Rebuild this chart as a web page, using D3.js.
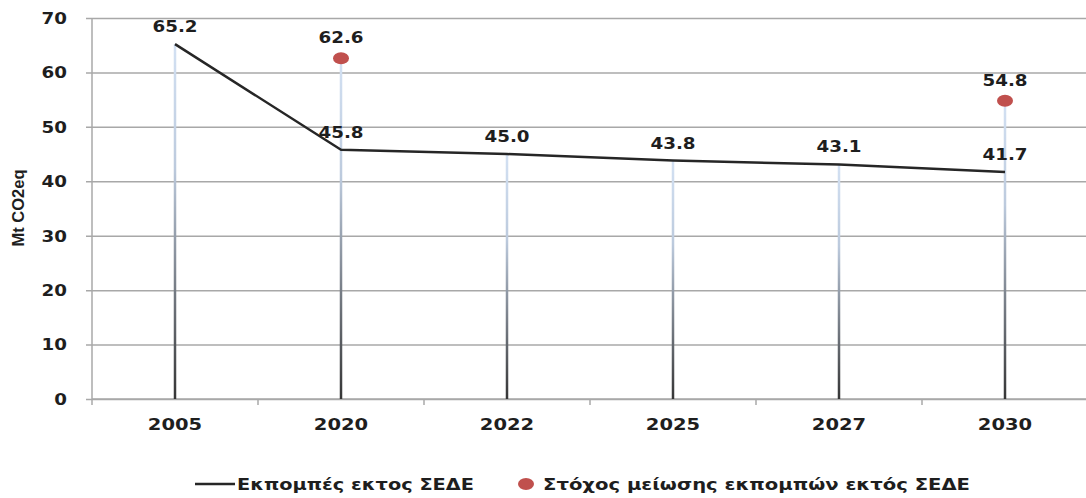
<!DOCTYPE html>
<html>
<head>
<meta charset="utf-8">
<script src="https://cdn.jsdelivr.net/npm/d3@7"></script>
<style>
  html, body { margin: 0; padding: 0; background: #fff; }
  svg { display: block; }
  text { font-family: "DejaVu Sans", Verdana, sans-serif; font-weight: bold; fill: #1e1e1e; }
</style>
</head>
<body>
<svg id="chart" width="1086" height="498"></svg>
<script>
const categories = ["2005", "2020", "2022", "2025", "2027", "2030"];
const emissions = [65.2, 45.8, 45.0, 43.8, 43.1, 41.7];
const targets = [null, 62.6, null, null, null, 54.8];
const yTicks = [0, 10, 20, 30, 40, 50, 60, 70];
const seriesNames = ["Εκπομπές εκτος ΣΕΔΕ", "Στόχος μείωσης εκπομπών εκτός ΣΕΔΕ"];
const yTitle = "Mt CO2eq";

(function () {
const svg = d3.select("#chart");
const pLeft = 92, pRight = 1088, pTop = 18, pBottom = 399;

const x = d3.scaleBand().domain(categories).range([pLeft, pRight]).padding(0);
const y = d3.scaleLinear().domain([0, 70]).range([pBottom, pTop]);
const cx = c => x(c) + x.bandwidth() / 2;

// gradient for drop lines
const defs = svg.append("defs");
const grad = defs.append("linearGradient").attr("id", "dropGrad")
  .attr("x1", 0).attr("y1", 0).attr("x2", 0).attr("y2", 1);
grad.append("stop").attr("offset", "0%").attr("stop-color", "#d3e1f3");
grad.append("stop").attr("offset", "35%").attr("stop-color", "#bccadd");
grad.append("stop").attr("offset", "65%").attr("stop-color", "#7e858f");
grad.append("stop").attr("offset", "100%").attr("stop-color", "#353535");

// gridlines
const grid = svg.append("g").attr("transform", `translate(${pLeft - 6},0)`)
  .call(d3.axisRight(y).tickValues(yTicks).tickSize(pRight - pLeft + 6).tickFormat(""));
grid.select(".domain").remove();
grid.selectAll("line").attr("stroke", "#a8a8a8").attr("stroke-width", 1.5);

// y axis line
svg.append("line").attr("x1", pLeft).attr("x2", pLeft).attr("y1", pTop).attr("y2", pBottom + 6)
  .attr("stroke", "#a8a8a8").attr("stroke-width", 1.5);
// x axis line
svg.append("line").attr("x1", pLeft).attr("x2", pRight).attr("y1", pBottom).attr("y2", pBottom)
  .attr("stroke", "#a8a8a8").attr("stroke-width", 1.5);
// x boundary ticks
svg.append("g").selectAll("line").data(categories.slice(1)).join("line")
  .attr("x1", d => x(d)).attr("x2", d => x(d)).attr("y1", pBottom).attr("y2", pBottom + 6)
  .attr("stroke", "#a8a8a8").attr("stroke-width", 1.5);

// y tick labels
const yAxis = svg.append("g").attr("transform", "translate(67,0)")
  .call(d3.axisLeft(y).tickValues(yTicks).tickSize(0).tickPadding(0));
yAxis.select(".domain").remove();
yAxis.selectAll("text").attr("x", 0).attr("dy", "0.36em").attr("text-anchor", "end")
  .attr("transform", "scale(1.22,1)").style("font-size", "15px")
  .style("font-family", "'DejaVu Sans', sans-serif").style("font-weight", "bold").attr("fill", "#1e1e1e");

// x tick labels
const xAxis = svg.append("g").attr("transform", `translate(0,${pBottom})`)
  .call(d3.axisBottom(x).tickSize(0).tickPadding(0));
xAxis.select(".domain").remove();
xAxis.selectAll("text").attr("y", 31).attr("dy", 0)
  .attr("transform", "scale(1.22,1)").style("font-size", "16px")
  .style("font-family", "'DejaVu Sans', sans-serif").style("font-weight", "bold").attr("fill", "#1e1e1e");

// y title
svg.append("text").attr("transform", "translate(24,208) rotate(-90)")
  .attr("text-anchor", "middle")
  .style("font-family", "'Liberation Sans Narrow', 'Arial Narrow', sans-serif")
  .style("font-weight", "bold")
  .style("font-size", "16px").attr("textLength", 77).attr("lengthAdjust", "spacingAndGlyphs")
  .text(yTitle);

// drop lines
const dropTop = categories.map((c, i) => Math.max(emissions[i], targets[i] == null ? 0 : targets[i]));
svg.append("g").selectAll("rect").data(categories).join("rect")
  .attr("x", d => cx(d) - 1.25).attr("width", 2.5)
  .attr("y", (d, i) => y(dropTop[i])).attr("height", (d, i) => y(0) - y(dropTop[i]))
  .attr("fill", "url(#dropGrad)");

// emissions line
const line = d3.line().x((d, i) => cx(categories[i])).y(d => y(d));
svg.append("path").datum(emissions).attr("d", line)
  .attr("fill", "none").attr("stroke", "#262626").attr("stroke-width", 2.5).attr("stroke-linejoin", "round");

// target dots
const tData = categories.map((c, i) => ({ c, v: targets[i] })).filter(d => d.v != null);
svg.append("g").selectAll("ellipse").data(tData).join("ellipse")
  .attr("cx", d => cx(d.c)).attr("cy", d => y(d.v)).attr("rx", 8).attr("ry", 6)
  .attr("fill", "#c0504d");

// labels
function label(xp, yp, txt) {
  svg.append("text").attr("transform", `translate(${xp},${yp}) scale(1.22,1)`)
    .attr("text-anchor", "middle").style("font-size", "15px").text(txt);
}
emissions.forEach((v, i) => label(cx(categories[i]), y(v) - 12, v.toFixed(1)));
tData.forEach(d => label(cx(d.c), y(d.v) - 15, d.v.toFixed(1)));

// legend
const ly = 484;
svg.append("line").attr("x1", 195).attr("x2", 235).attr("y1", ly).attr("y2", ly)
  .attr("stroke", "#262626").attr("stroke-width", 2.5);
svg.append("text").attr("x", 237).attr("y", ly + 5.5).style("font-size", "15px")
  .attr("textLength", 237).attr("lengthAdjust", "spacingAndGlyphs").text(seriesNames[0]);
svg.append("ellipse").attr("cx", 526).attr("cy", ly).attr("rx", 8).attr("ry", 6).attr("fill", "#c0504d");
svg.append("text").attr("x", 543).attr("y", ly + 5.5).style("font-size", "15px")
  .attr("textLength", 427).attr("lengthAdjust", "spacingAndGlyphs").text(seriesNames[1]);
})();
</script>
</body>
</html>
